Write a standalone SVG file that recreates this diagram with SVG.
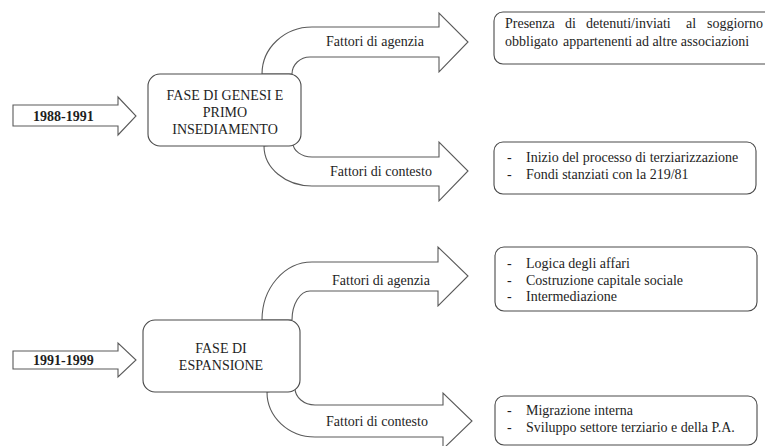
<svg xmlns="http://www.w3.org/2000/svg" width="765" height="446" viewBox="0 0 765 446">
<style>
.shape{fill:#fff;stroke:#5a5a5a;stroke-width:1.1}
.box{fill:#fff;stroke:#4a4a4a;stroke-width:1.1}
text{font-family:"Liberation Serif","Times New Roman",serif;font-size:14px;fill:#1e1e1e}
.yr{font-weight:bold}
.c{text-anchor:middle}
</style>
<rect width="765" height="446" fill="#fff"/>
<g id="connectors">
  <path class="shape" d="M262 74 A50 47 0 0 1 312 27 L439 27 L439 13 L468 42 L439 72 L439 57 L310 57 A18 17 0 0 0 292 74 Z"/>
  <path class="shape" d="M264 146 A48 40 0 0 0 312 186 L439 186 L439 201 L468 171 L439 142 L439 157 L312 157 A19 14 0 0 1 293 143 Z"/>
  <path class="shape" d="M262 320 A50 58 0 0 1 312 262 L438 262 L438 247 L468 276 L438 306 L438 291 L310 291 A18 29 0 0 0 292 320 Z"/>
  <path class="shape" d="M267 392 A48 45 0 0 0 315 437 L443 437 L443 449 L472 421 L443 393 L443 405 L315 405 A20 17 0 0 1 295 388 Z"/>
  <text x="326" y="46">Fattori di agenzia</text>
  <text x="330" y="176">Fattori di contesto</text>
  <text x="332" y="285">Fattori di agenzia</text>
  <text x="326" y="426">Fattori di contesto</text>
</g>
<g id="year-1988-1991">
  <path class="shape" d="M13 105 L118 105 L118 97 L136 116 L118 135 L118 126 L13 126 Z"/>
  <text class="yr" x="33" y="121">1988-1991</text>
</g>
<g id="year-1991-1999">
  <path class="shape" d="M13 351 L118 351 L118 343 L136 360 L118 377 L118 369 L13 369 Z"/>
  <text class="yr" x="33" y="365">1991-1999</text>
</g>
<g id="fase-genesi">
  <rect class="box" x="148" y="74" width="153" height="72" rx="12"/>
  <text class="c" x="225" y="100">FASE DI GENESI E</text>
  <text class="c" x="225" y="117">PRIMO</text>
  <text class="c" x="225" y="134">INSEDIAMENTO</text>
</g>
<g id="fase-espansione">
  <rect class="box" x="143" y="320" width="157" height="72" rx="12"/>
  <text class="c" x="221" y="353">FASE DI</text>
  <text class="c" x="221" y="370">ESPANSIONE</text>
</g>
<g id="agenzia-1">
  <rect class="box" x="494" y="12" width="290" height="52" rx="9"/>
  <text y="28"><tspan x="505">Presenza</tspan><tspan x="565">di</tspan><tspan x="586">detenuti/inviati</tspan><tspan x="686">al</tspan><tspan x="707">soggiorno</tspan></text>
  <text y="46"><tspan x="505">obbligato</tspan><tspan x="563">appartenenti ad altre associazioni</tspan></text>
</g>
<g id="contesto-1">
  <rect class="box" x="494" y="142" width="262" height="52" rx="9"/>
  <text x="507" y="162">-</text><text x="526" y="162">Inizio del processo di terziarizzazione</text>
  <text x="507" y="179">-</text><text x="526" y="179">Fondi stanziati con la 219/81</text>
</g>
<g id="agenzia-2">
  <rect class="box" x="495" y="247" width="262" height="64" rx="9"/>
  <text x="507" y="268">-</text><text x="526" y="268">Logica degli affari</text>
  <text x="507" y="285">-</text><text x="526" y="285">Costruzione capitale sociale</text>
  <text x="507" y="301">-</text><text x="526" y="301">Intermediazione</text>
</g>
<g id="contesto-2">
  <rect class="box" x="495" y="396" width="262" height="49" rx="9"/>
  <text x="507" y="415">-</text><text x="526" y="415">Migrazione interna</text>
  <text x="507" y="432">-</text><text x="526" y="432">Sviluppo settore terziario e della P.A.</text>
</g>
</svg>
